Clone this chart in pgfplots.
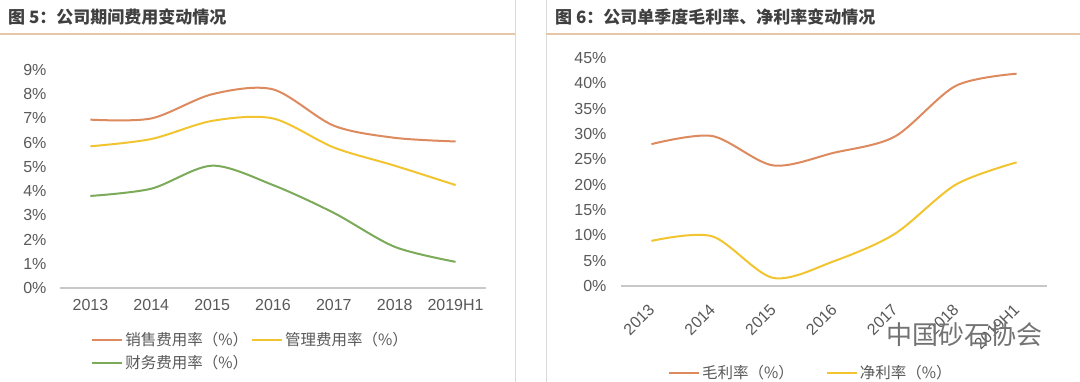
\documentclass[border=0pt]{standalone}
\usepackage{pgfplots}
\pgfplotsset{compat=1.18}
\usepackage{fontspec}
\setmainfont{Liberation Sans}
\newfontfamily\cjk{Noto Sans CJK SC}
\definecolor{cOrange}{HTML}{DC8A5E}
\definecolor{cYellow}{HTML}{F2C530}
\definecolor{cGreen}{HTML}{7BAA58}
\definecolor{cTick}{HTML}{595959}
\definecolor{cRule}{HTML}{E6C7A6}
\definecolor{cSep}{HTML}{DADADA}
\definecolor{cAxis}{HTML}{C8C8C8}
\definecolor{cTitle}{HTML}{404040}
\pgfplotsset{
  mystyle/.style={
    scale only axis,
    axis lines=left,
    y axis line style={draw=none},
    x axis line style={draw=cAxis, line width=1.3pt, -},
    major tick length=0pt,
    tick style={draw=none},
    ticklabel style={text=cTick, font=\fontsize{16}{16}\selectfont},
    xtick={0,...,6},
    xticklabels={2013,2014,2015,2016,2017,2018,2019H1},
    xmin=-0.5, xmax=6.5,
    clip=false,
    legend style={draw=none, fill=none, font=\cjk\fontsize{15.5}{17}\selectfont, text=cTick, row sep=4pt},
    legend cell align=left,
    legend image code/.code={\draw[##1, line width=2pt] (0pt,0pt) -- (30pt,0pt);},
    every axis plot/.append style={line width=2pt, smooth, no markers},
  }
}
\begin{document}
\begin{tikzpicture}[x=1pt,y=1pt]
\path[use as bounding box] (0,0) rectangle (1080,382);
\fill[white] (0,0) rectangle (1080,382);
\draw[cSep, line width=0.8pt] (515,0) -- (515,382);
\draw[cSep, line width=0.8pt] (546,0) -- (546,382);
\draw[cRule, line width=1.5pt] (0,348) -- (515,348);
\draw[cRule, line width=1.5pt] (546,348) -- (1080,348);
\node[anchor=west, inner sep=0, text=cTitle] at (8,365) {\cjk\bfseries\fontsize{17}{17}\selectfont 图 5：公司期间费用变动情况};
\node[anchor=west, inner sep=0, text=cTitle] at (555,365) {\cjk\bfseries\fontsize{17}{17}\selectfont 图 6：公司单季度毛利率、净利率变动情况};

\begin{axis}[mystyle, at={(60pt,94pt)}, anchor=south west,
  width=426pt, height=218pt,
  ymin=0, ymax=9, ytick={0,...,9},
  yticklabels={0\%,1\%,2\%,3\%,4\%,5\%,6\%,7\%,8\%,9\%},
  yticklabel style={xshift=-10pt},
  xticklabel style={yshift=-8pt},
  legend columns=2,
  legend style={at={(0.066,-0.185)}, anchor=north west,
    /tikz/every even column/.append style={column sep=1pt}},
]
\addplot[cOrange] coordinates {(0,6.95) (1,7.0) (2,8.0) (3,8.2) (4,6.7) (5,6.2) (6,6.05)};
\addlegendentry{销售费用率（\%）}
\addplot[cYellow] coordinates {(0,5.85) (1,6.15) (2,6.9) (3,7.0) (4,5.8) (5,5.05) (6,4.25)};
\addlegendentry{管理费用率（\%）}
\addplot[cGreen] coordinates {(0,3.8) (1,4.1) (2,5.05) (3,4.25) (4,3.1) (5,1.7) (6,1.08)};
\addlegendentry{财务费用率（\%）}
\end{axis}

\begin{axis}[mystyle, at={(621pt,96pt)}, anchor=south west,
  width=426pt, height=228pt,
  ymin=0, ymax=45, ytick={0,5,...,45},
  yticklabels={0\%,5\%,10\%,15\%,20\%,25\%,30\%,35\%,40\%,45\%},
  yticklabel style={xshift=-11pt},
  xticklabel style={xshift=-4pt, yshift=-12pt, rotate=45, anchor=north east},
  legend columns=2,
  legend style={at={(0.103,-0.33)}, anchor=north west,
    /tikz/every even column/.append style={column sep=30pt}},
]
\addplot[cOrange] coordinates {(0,28.0) (1,29.6) (2,23.8) (3,26.3) (4,29.5) (5,39.5) (6,41.9)};
\addlegendentry{毛利率（\%）}
\addplot[cYellow] coordinates {(0,8.9) (1,9.8) (2,1.6) (3,4.9) (4,10.3) (5,20.0) (6,24.4)};
\addlegendentry{净利率（\%）}
\end{axis}

\node[text=black!55, inner sep=0] at (964,47) {\cjk\fontsize{26}{26}\selectfont 中国砂石协会};
\end{tikzpicture}
\end{document}
